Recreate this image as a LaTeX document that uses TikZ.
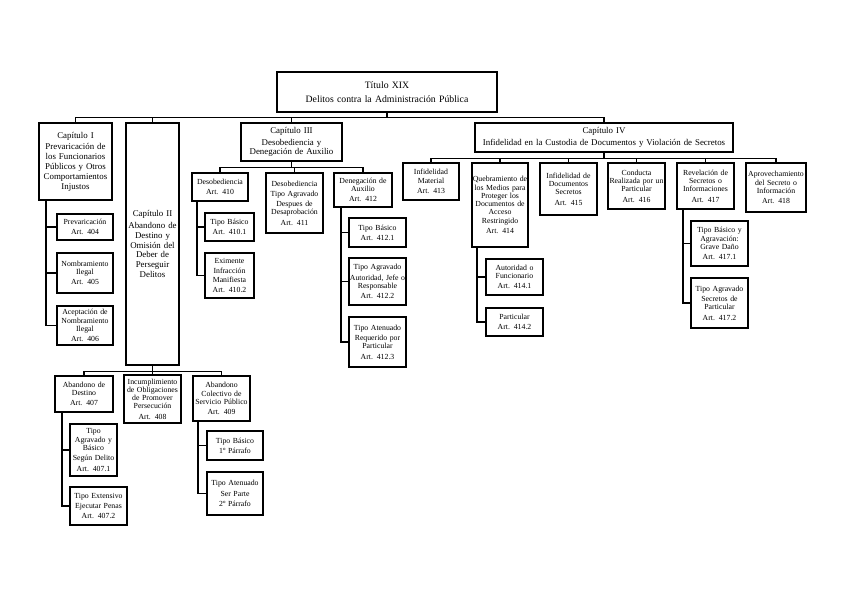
\documentclass[tikz,border=0pt]{standalone}
\usepackage{fontspec}
\setmainfont{Liberation Serif}
\begin{document}
\begin{tikzpicture}[x=1bp,y=-1bp,
  bx/.style={draw, line width=1.1bp, inner xsep=0pt, inner ysep=1bp, align=center,
    font=\fontsize{7.8}{8.3}\selectfont},
  ch/.style={bx, font=\fontsize{8.9}{9.8}\selectfont},
  sz/.style 2 args={minimum width=#1bp, text width=#1bp, minimum height=#2bp},
  ln/.style={line width=1.1bp}]
\useasboundingbox (0,0) rectangle (848,599);

% title
\node[ch, font=\fontsize{9.8}{10.5}\selectfont, sz={220}{40}] (t) at (387,92) {Título XIX\\[3bp] Delitos contra la Administración Pública};

% chapters
\node[ch, sz={73}{77}] (c1) at (75.5,161.5) {Capítulo I\\[2bp] Prevaricación de\\ los Funcionarios\\ Públicos y Otros\\ Comportamientos\\ Injustos};
\node[ch, sz={53}{242}] (c2) at (152.5,244) {Capítulo II\\[2bp] Abandono de\\ Destino y\\ Omisión del\\ Deber de\\ Perseguir\\ Delitos};
\node[ch, sz={101}{38}] (c3) at (291.5,142) {Capítulo III\\[2bp] Desobediencia y\\ Denegación de Auxilio};
\node[ch, sz={258}{29}] (c4) at (604,137.5) {Capítulo IV\\[2bp] Infidelidad en la Custodia de Documentos y Violación de Secretos};

% chapter I children
\node[bx, sz={56}{26}] (a404) at (85,227) {Prevaricación\\[2bp] Art. 404};
\node[bx, sz={56}{40}] (a405) at (85,273) {Nombramiento\\ Ilegal\\[2bp] Art. 405};
\node[bx, sz={56}{39}] (a406) at (85,325.5) {Aceptación de\\ Nombramiento\\ Ilegal\\[2bp] Art. 406};

% chapter II children
\node[bx, sz={58}{36}] (a407) at (84,394) {Abandono de\\ Destino\\[2bp] Art. 407};
\node[bx, sz={57}{48}] (a408) at (152.5,399) {Incumplimiento\\ de Obligaciones\\ de Promover\\ Persecución\\[2bp] Art. 408};
\node[bx, sz={57}{45}] (a409) at (221.5,398.5) {Abandono\\ Colectivo de\\ Servicio Público\\[2bp] Art. 409};
\node[bx, sz={47}{52}] (a4071) at (93.5,450) {Tipo\\ Agravado y\\ Básico\\[2bp] Según Delito\\[2bp] Art. 407.1};
\node[bx, sz={57}{38}] (a4072) at (98.5,506) {Tipo Extensivo\\[2bp] Ejecutar Penas\\[2bp] Art. 407.2};
\node[bx, sz={56}{29}] (a4091) at (235,445.5) {Tipo Básico\\[2bp] 1º Párrafo};
\node[bx, sz={56}{43}] (a4092) at (235,493.5) {Tipo Atenuado\\[2bp] Ser Parte\\[2bp] 2º Párrafo};

% chapter III children
\node[bx, sz={56}{28}] (a410) at (220,187) {Desobediencia\\[2bp] Art. 410};
\node[bx, sz={57}{60}] (a411) at (294.5,203) {Desobediencia\\[2bp] Tipo Agravado\\[2bp] Despues de\\ Desaprobación\\[2bp] Art. 411};
\node[bx, sz={58}{34}] (a412) at (363,190) {Denegación de\\ Auxilio\\[2bp] Art. 412};
\node[bx, sz={49}{28}] (a4101) at (229.5,227) {Tipo Básico\\[2bp] Art. 410.1};
\node[bx, sz={49}{45}] (a4102) at (229.5,275.5) {Eximente\\[2bp] Infracción\\ Manifiesta\\[2bp] Art. 410.2};
\node[bx, sz={57}{29}] (a4121) at (377.5,232.5) {Tipo Básico\\[2bp] Art. 412.1};
\node[bx, sz={57}{47}] (a4122) at (377.5,281.5) {Tipo Agravado\\[2bp] Autoridad, Jefe o\\ Responsable\\[2bp] Art. 412.2};
\node[bx, sz={57}{50}] (a4123) at (377.5,342) {Tipo Atenuado\\[2bp] Requerido por\\ Particular\\[2bp] Art. 412.3};

% chapter IV children
\node[bx, sz={56}{37}] (a413) at (431,181.5) {Infidelidad\\ Material\\[2bp] Art. 413};
\node[bx, sz={56}{84}] (a414) at (500,205) {Quebramiento de\\ los Medios para\\ Proteger los\\ Documentos de\\ Acceso\\ Restringido\\[2bp] Art. 414};
\node[bx, sz={57}{52}] (a415) at (568.5,189) {Infidelidad de\\ Documentos\\ Secretos\\[2bp] Art. 415};
\node[bx, sz={57}{46}] (a416) at (636.5,186) {Conducta\\ Realizada por un\\ Particular\\[2bp] Art. 416};
\node[bx, sz={57}{46}] (a417) at (705.5,186) {Revelación de\\ Secretos o\\ Informaciones\\[2bp] Art. 417};
\node[bx, sz={60}{49}] (a418) at (776,187.5) {Aprovechamiento\\ del Secreto o\\ Información\\[2bp] Art. 418};
\node[bx, sz={57}{36}] (a4141) at (514.5,277) {Autoridad o\\ Funcionario\\[2bp] Art. 414.1};
\node[bx, sz={57}{28}] (a4142) at (514.5,322) {Particular\\[2bp] Art. 414.2};
\node[bx, sz={57}{45}] (a4171) at (719.5,243.5) {Tipo Básico y\\ Agravación:\\ Grave Daño\\[2bp] Art. 417.1};
\node[bx, sz={57}{50}] (a4172) at (719.5,303) {Tipo Agravado\\[2bp] Secretos de\\ Particular\\[2bp] Art. 417.2};

% spines
\coordinate (s1) at (46,0);
\coordinate (s407) at (62,0);
\coordinate (s409) at (198,0);
\coordinate (s410) at (197,0);
\coordinate (s412) at (341,0);
\coordinate (s414) at (477,0);
\coordinate (s417) at (683,0);

% title to chapters
\foreach \c in {c1,c2,c3,c4} \draw[ln] (t.south) -- ++(0,5) -| (\c.north);
% chapter I
\foreach \c in {a404,a405,a406} \draw[ln] (c1.south -| s1) |- (\c.west);
% chapter II
\foreach \c in {a407,a408,a409} \draw[ln] (c2.south) -- ++(0,6) -| (\c.north);
\foreach \c in {a4071,a4072} \draw[ln] (a407.south -| s407) |- (\c.west);
\foreach \c in {a4091,a4092} \draw[ln] (a409.south -| s409) |- (\c.west);
% chapter III
\foreach \c in {a410,a411,a412} \draw[ln] (c3.south) -- ++(0,6) -| (\c.north);
\foreach \c in {a4101,a4102} \draw[ln] (a410.south -| s410) |- (\c.west);
\foreach \c in {a4121,a4122,a4123} \draw[ln] (a412.south -| s412) |- (\c.west);
% chapter IV
\foreach \c in {a413,a414,a415,a416,a417,a418} \draw[ln] (c4.south) -- ++(0,6) -| (\c.north);
\foreach \c in {a4141,a4142} \draw[ln] (a414.south -| s414) |- (\c.west);
\foreach \c in {a4171,a4172} \draw[ln] (a417.south -| s417) |- (\c.west);
\end{tikzpicture}
\end{document}
